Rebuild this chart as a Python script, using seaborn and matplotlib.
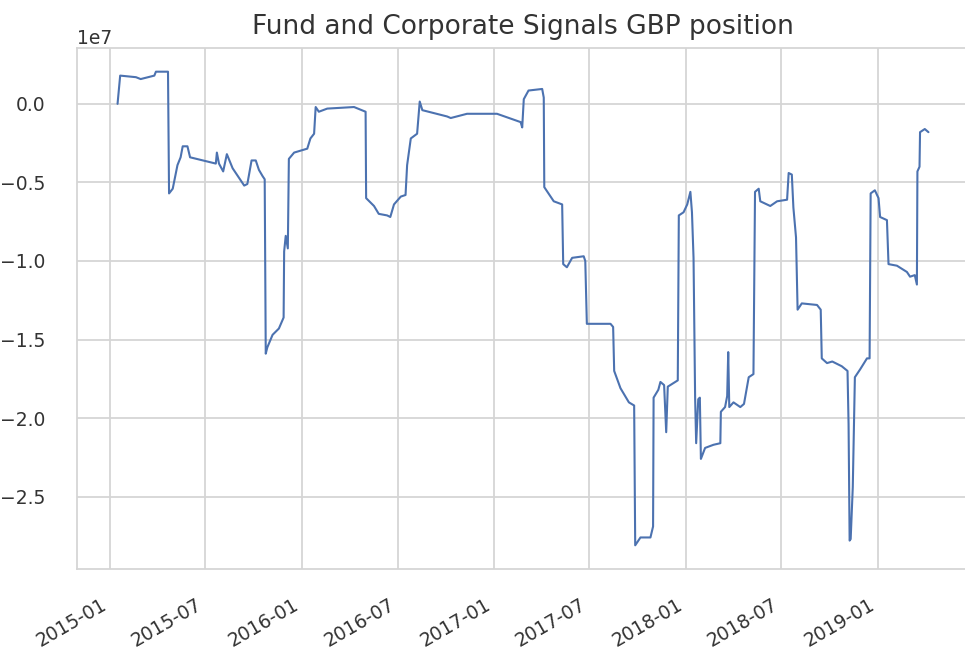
import matplotlib
matplotlib.use("Agg")
import matplotlib.pyplot as plt
import matplotlib.dates as mdates
import seaborn as sns
import pandas as pd

dates = [
    "2015-01-15", "2015-01-20", "2015-02-19", "2015-02-28", "2015-03-26", "2015-03-29",
    "2015-04-21", "2015-04-23", "2015-04-30", "2015-05-09", "2015-05-15", "2015-05-19",
    "2015-05-28", "2015-06-02", "2015-07-21", "2015-07-23", "2015-07-27", "2015-08-04",
    "2015-08-11", "2015-08-22", "2015-08-26", "2015-09-13", "2015-09-19", "2015-09-27",
    "2015-10-05", "2015-10-11", "2015-10-18", "2015-10-22", "2015-10-24", "2015-10-27",
    "2015-11-06", "2015-11-18", "2015-11-27", "2015-11-28", "2015-12-01", "2015-12-05",
    "2015-12-07", "2015-12-17", "2016-01-11", "2016-01-17", "2016-01-24", "2016-01-27",
    "2016-02-02", "2016-02-18", "2016-04-09", "2016-05-01", "2016-05-02", "2016-05-17",
    "2016-05-26", "2016-06-11", "2016-06-17", "2016-06-24", "2016-07-07", "2016-07-16",
    "2016-07-19", "2016-07-26", "2016-08-07", "2016-08-12", "2016-08-17", "2016-10-03",
    "2016-10-10", "2016-11-10", "2017-01-06", "2017-02-20", "2017-02-23", "2017-02-26",
    "2017-03-07", "2017-04-02", "2017-04-05", "2017-04-06", "2017-04-24", "2017-05-10",
    "2017-05-12", "2017-05-19", "2017-05-29", "2017-06-20", "2017-06-23", "2017-06-26",
    "2017-08-10", "2017-08-15", "2017-08-17", "2017-08-29", "2017-09-14", "2017-09-24",
    "2017-09-26", "2017-10-06", "2017-10-25", "2017-10-30", "2017-10-31", "2017-11-09",
    "2017-11-13", "2017-11-20", "2017-11-24", "2017-11-27", "2017-12-11", "2017-12-16",
    "2017-12-18", "2017-12-27", "2018-01-03", "2018-01-09", "2018-01-12", "2018-01-15",
    "2018-01-18", "2018-01-20", "2018-01-24", "2018-01-27", "2018-01-29", "2018-02-06",
    "2018-02-22", "2018-03-07", "2018-03-08", "2018-03-16", "2018-03-20", "2018-03-22",
    "2018-03-24", "2018-04-01", "2018-04-14", "2018-04-21", "2018-04-30", "2018-05-09",
    "2018-05-12", "2018-05-19", "2018-05-22", "2018-06-10", "2018-06-23", "2018-07-12",
    "2018-07-15", "2018-07-21", "2018-07-24", "2018-07-29", "2018-08-01", "2018-08-09",
    "2018-09-07", "2018-09-14", "2018-09-16", "2018-09-26", "2018-10-06", "2018-10-24",
    "2018-11-04", "2018-11-06", "2018-11-08", "2018-11-10", "2018-11-14", "2018-11-18",
    "2018-11-28", "2018-12-11", "2018-12-16", "2018-12-18", "2018-12-26", "2019-01-02",
    "2019-01-05", "2019-01-18", "2019-01-21", "2019-02-06", "2019-02-25", "2019-03-03",
    "2019-03-12", "2019-03-16", "2019-03-17", "2019-03-21", "2019-03-22", "2019-03-31",
    "2019-04-07",
]

position = [
    0.0e6, 1.80e6, 1.70e6, 1.58e6, 1.80e6, 2.05e6,
    2.05e6, -5.70e6, -5.40e6, -3.90e6, -3.40e6, -2.70e6,
    -2.70e6, -3.40e6, -3.80e6, -3.10e6, -3.80e6, -4.30e6,
    -3.20e6, -4.10e6, -4.30e6, -5.20e6, -5.10e6, -3.60e6,
    -3.60e6, -4.20e6, -4.60e6, -4.80e6, -15.90e6, -15.50e6,
    -14.70e6, -14.30e6, -13.60e6, -9.40e6, -8.40e6, -9.20e6,
    -3.50e6, -3.10e6, -2.85e6, -2.20e6, -1.90e6, -0.20e6,
    -0.50e6, -0.30e6, -0.20e6, -0.50e6, -6.00e6, -6.50e6,
    -7.00e6, -7.10e6, -7.20e6, -6.40e6, -5.90e6, -5.80e6,
    -3.90e6, -2.20e6, -1.90e6, 0.15e6, -0.40e6, -0.80e6,
    -0.90e6, -0.63e6, -0.63e6, -1.16e6, -1.50e6, 0.30e6,
    0.85e6, 0.95e6, 0.40e6, -5.30e6, -6.20e6, -6.40e6,
    -10.20e6, -10.40e6, -9.80e6, -9.70e6, -10.00e6, -14.00e6,
    -14.00e6, -14.20e6, -17.00e6, -18.10e6, -19.00e6, -19.20e6,
    -28.10e6, -27.60e6, -27.60e6, -26.90e6, -18.70e6, -18.20e6,
    -17.70e6, -17.90e6, -20.90e6, -18.00e6, -17.70e6, -17.60e6,
    -7.10e6, -6.90e6, -6.40e6, -5.60e6, -6.90e6, -9.80e6,
    -18.70e6, -21.60e6, -18.80e6, -18.70e6, -22.60e6, -21.90e6,
    -21.70e6, -21.60e6, -19.60e6, -19.30e6, -18.60e6, -15.80e6,
    -19.30e6, -19.00e6, -19.30e6, -19.10e6, -17.40e6, -17.20e6,
    -5.60e6, -5.40e6, -6.20e6, -6.50e6, -6.20e6, -6.10e6,
    -4.40e6, -4.50e6, -6.60e6, -8.50e6, -13.10e6, -12.70e6,
    -12.80e6, -13.10e6, -16.20e6, -16.50e6, -16.40e6, -16.70e6,
    -17.00e6, -20.40e6, -27.80e6, -27.70e6, -24.40e6, -17.40e6,
    -16.90e6, -16.20e6, -16.20e6, -5.70e6, -5.50e6, -6.00e6,
    -7.20e6, -7.40e6, -10.20e6, -10.30e6, -10.70e6, -11.00e6,
    -10.90e6, -11.50e6, -4.30e6, -4.00e6, -1.80e6, -1.60e6,
    -1.80e6,
]

title_text = "Fund and Corporate Signals GBP position"

df = pd.DataFrame({"date": pd.to_datetime(dates), "position": position})

sns.set_theme(style="whitegrid", context="notebook")
plt.rcParams["font.family"] = ["DejaVu Sans"]
plt.rcParams["grid.linewidth"] = 1.3
plt.rcParams["grid.color"] = "#d5d5d5"
plt.rcParams["axes.edgecolor"] = "#d5d5d5"
plt.rcParams["axes.linewidth"] = 1.3

fig = plt.figure(figsize=(9.65, 6.63), dpi=100)
ax = fig.add_axes([77 / 965, (663 - 569) / 663, (969 - 77) / 965, (569 - 48) / 663])

sns.lineplot(data=df, x="date", y="position", ax=ax, color="#4c72b0", linewidth=1.5)

ax.set_xlabel("")
ax.set_ylabel("")
ax.set_title(title_text, fontsize=19, color="#333333", pad=10)
ax.tick_params(axis="both", labelsize=13.5, colors="#333333")
ax.tick_params(axis="y", pad=17)
ax.tick_params(axis="x", pad=13)
ax.yaxis.get_offset_text().set_fontsize(13.5)
ax.yaxis.get_offset_text().set_color("#333333")

ax.xaxis.set_major_locator(mdates.MonthLocator(bymonth=[1, 7]))
ax.xaxis.set_major_formatter(mdates.DateFormatter("%Y-%m"))
for lbl in ax.get_xticklabels():
    lbl.set_rotation(30)
    lbl.set_ha("right")

fig.savefig("out.png", dpi=100)
